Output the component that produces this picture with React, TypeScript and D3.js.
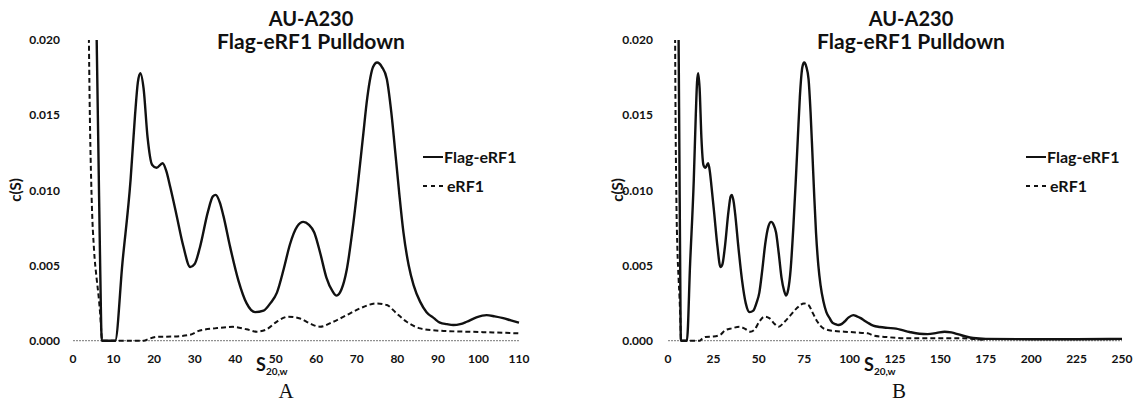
import React from "react";
import * as d3 from "d3";

// Flag-eRF1 (solid) c(S) distribution: [s20,w, c(S)]
const flagS: number[] = [5.5, 5.9, 6.3, 6.7, 7.1, 10.4, 12.2, 14.2, 15.3, 16.0, 16.6, 17.4, 18.4, 19.5, 20.6, 22.1, 23.0, 24.0, 25.5, 27.2, 28.9, 30.0, 31.3, 33.3, 34.5, 35.2, 36.2, 37.1, 38.7, 40.8, 42.8, 44.9, 47.0, 48.7, 50.3, 52.0, 53.5, 55.3, 56.8, 58.2, 59.5, 61.0, 62.5, 64.0, 65.0, 66.2, 67.5, 69.0, 70.3, 71.5, 72.6, 74.0, 75.0, 76.2, 77.4, 78.5, 79.5, 80.5, 81.5, 82.8, 84.0, 85.6, 87.2, 89.0, 90.5, 92.2, 93.8, 95.5, 97.1, 99.5, 102.0, 104.0, 106.1, 108.0, 110.0, 113.0, 116.6, 121.0, 125.6, 129.0, 133.0, 138.5, 143.0, 148.0, 152.3, 156.0, 160.0, 164.0, 168.0, 175.0, 200.0, 225.0, 250.0];
const flagC: number[] = [0.026, 0.019, 0.012, 0.005, 0.0, 0.0, 0.0052, 0.0107, 0.015, 0.0172, 0.0178, 0.0168, 0.0135, 0.0117, 0.0115, 0.0118, 0.0113, 0.0102, 0.0084, 0.0063, 0.0049, 0.0051, 0.0062, 0.0086, 0.0096, 0.0097, 0.0092, 0.0083, 0.0063, 0.004, 0.0025, 0.0019, 0.002, 0.0025, 0.0032, 0.0048, 0.0064, 0.0076, 0.0079, 0.0077, 0.0072, 0.0058, 0.0042, 0.0033, 0.003, 0.0034, 0.0047, 0.0075, 0.0105, 0.0135, 0.0162, 0.0182, 0.0185, 0.0182, 0.0174, 0.0152, 0.0125, 0.0097, 0.0072, 0.005, 0.0037, 0.0026, 0.0019, 0.0015, 0.0012, 0.0011, 0.00104, 0.0011, 0.00126, 0.00155, 0.0017, 0.00162, 0.0015, 0.00135, 0.0012, 0.001, 0.00091, 0.00085, 0.0008, 0.0007, 0.00058, 0.00046, 0.00044, 0.00052, 0.0006, 0.00055, 0.00042, 0.00028, 0.00018, 0.00012, 0.0001, 0.0001, 0.00012];

// eRF1 (dashed)
const erfS: number[] = [3.7, 4.1, 4.6, 5.2, 5.8, 6.3, 6.7, 7.2, 17.5, 18.5, 20.6, 25.0, 28.9, 31.3, 35.0, 39.5, 42.8, 45.3, 47.8, 50.2, 53.1, 56.0, 58.4, 60.9, 64.2, 67.5, 70.8, 74.9, 77.4, 79.8, 82.3, 85.6, 90.5, 97.1, 103.6, 110.0, 113.0, 120.0, 131.0, 149.0, 162.0, 170.0, 175.0];
const erfC: number[] = [0.026, 0.016, 0.0095, 0.006, 0.0042, 0.003, 0.0018, 0.0, 0.0, 0.0001, 0.00025, 0.00028, 0.0004, 0.00068, 0.00082, 0.00092, 0.00076, 0.0006, 0.00076, 0.00125, 0.0016, 0.00148, 0.00115, 0.00093, 0.00126, 0.0017, 0.00215, 0.00248, 0.00237, 0.00182, 0.00126, 0.00082, 0.00066, 0.0006, 0.00055, 0.00049, 0.00035, 0.00025, 0.00016, 0.00016, 0.00016, 0.0001, 0.00005];

const yTicks: number[] = [0, 0.005, 0.01, 0.015, 0.02];
const xTicksA: number[] = [0, 10, 20, 30, 40, 50, 60, 70, 80, 90, 100, 110];
const xTicksB: number[] = [0, 25, 50, 75, 100, 125, 150, 175, 200, 225, 250];
const titleLines: string[] = ["AU-A230", "Flag-eRF1 Pulldown"];
const legendLabels: string[] = ["Flag-eRF1", "eRF1"];

const FONT = "Lato, 'Open Sans', sans-serif";

type PanelProps = {
  id: string;
  x0: number;
  x1: number;
  xMax: number;
  xTicks: number[];
  tickRight: number;
  yLabelX: number;
  titleX: number;
  legendX: number;
  sX: number;
  letter: string;
  letterX: number;
};

function Panel(p: PanelProps) {
  const x = d3.scaleLinear().domain([0, p.xMax]).range([p.x0, p.x1]);
  const y = d3.scaleLinear().domain([0, 0.02]).range([340.7, 40]);
  const flag = flagS.map((s, i) => [s, flagC[i]] as [number, number]).filter((d) => d[0] <= p.xMax);
  const erf = erfS.map((s, i) => [s, erfC[i]] as [number, number]).filter((d) => d[0] <= p.xMax);
  const line = d3
    .line<[number, number]>()
    .x((d) => x(d[0]))
    .y((d) => y(d[1]))
    .curve(d3.curveMonotoneX);
  const fmt = d3.format(".3f");
  const clipId = "clip-" + p.id;
  return (
    <g>
      <defs>
        <clipPath id={clipId}>
          <rect x={p.x0 - 20} y={y(0.02)} width={p.x1 - p.x0 + 30} height={y(0) - y(0.02) + 4} />
        </clipPath>
      </defs>
      {/* titles */}
      <text x={p.titleX} y={26} textAnchor="middle" fontFamily={FONT} fontWeight="bold" fontSize={20} fill="#111">
        {titleLines[0]}
      </text>
      <text x={p.titleX} y={49} textAnchor="middle" fontFamily={FONT} fontWeight="bold" fontSize={21} fill="#111">
        {titleLines[1]}
      </text>
      {/* baseline */}
      <line x1={x(0)} x2={x(p.xMax)} y1={y(0)} y2={y(0)} stroke="#777" strokeWidth={1} strokeDasharray="2,1" />
      {/* y ticks */}
      {yTicks.map((t) => (
        <text key={t} x={p.tickRight} y={y(t)} dy="0.35em" textAnchor="end" fontFamily={FONT} fontWeight="bold" fontSize={12} fill="#111">
          {fmt(t)}
        </text>
      ))}
      {/* x ticks */}
      {p.xTicks.map((t) => (
        <text key={t} x={x(t)} y={363} textAnchor="middle" fontFamily={FONT} fontWeight="bold" fontSize={12} fill="#111">
          {t}
        </text>
      ))}
      {/* y axis label */}
      <text transform={`translate(${p.yLabelX},190) rotate(-90)`} textAnchor="middle" dy="0.35em" fontFamily={FONT} fontWeight="bold" fontSize={15} fill="#111">
        c(S)
      </text>
      {/* x axis label */}
      <text x={p.sX} y={371} fontFamily={FONT} fontWeight="bold" fontSize={18} fill="#111">
        S
        <tspan fontSize={10} dy={3.5}>
          20,w
        </tspan>
      </text>
      {/* panel letter */}
      <text x={p.letterX} y={398} textAnchor="middle" fontFamily="'Liberation Serif', 'Times New Roman', serif" fontSize={21} fill="#111">
        {p.letter}
      </text>
      {/* curves */}
      <g clipPath={`url(#${clipId})`}>
        <path d={line(erf) || ""} fill="none" stroke="#111" strokeWidth={2} strokeDasharray="5,3" />
        <path d={line(flag) || ""} fill="none" stroke="#111" strokeWidth={2.4} strokeLinejoin="round" />
      </g>
      {/* legend */}
      <line x1={p.legendX} x2={p.legendX + 20} y1={157} y2={157} stroke="#111" strokeWidth={2} />
      <text x={p.legendX + 21} y={157} dy="0.35em" fontFamily={FONT} fontWeight="bold" fontSize={16} fill="#111">
        {legendLabels[0]}
      </text>
      <line x1={p.legendX} x2={p.legendX + 20} y1={186} y2={186} stroke="#111" strokeWidth={2} strokeDasharray="4,4" />
      <text x={p.legendX + 24} y={186} dy="0.35em" fontFamily={FONT} fontWeight="bold" fontSize={16} fill="#111">
        {legendLabels[1]}
      </text>
    </g>
  );
}

export default function App() {
  return (
    <svg width={1136} height={402} style={{ position: "absolute", left: 0, top: 0, background: "#fff" }}>
      <rect x={0} y={0} width={1136} height={402} fill="#fff" />
      <Panel id="a" x0={73} x1={519} xMax={110} xTicks={xTicksA} tickRight={60} yLabelX={16} titleX={311} legendX={423} sX={256} letter="A" letterX={286} />
      <Panel id="b" x0={668} x1={1122} xMax={250} xTicks={xTicksB} tickRight={653} yLabelX={618} titleX={911} legendX={1026} sX={864} letter="B" letterX={899} />
    </svg>
  );
}
